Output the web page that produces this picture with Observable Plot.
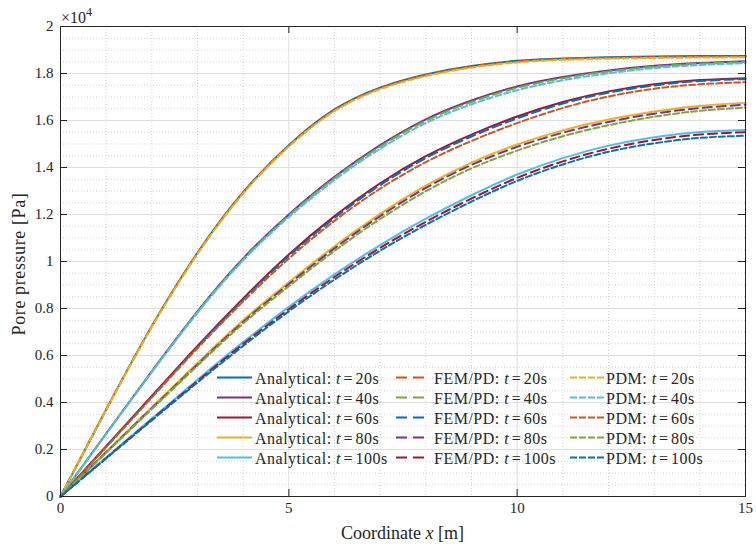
<!DOCTYPE html>
<html>
<head>
<meta charset="utf-8">
<script src="https://cdn.jsdelivr.net/npm/d3@7"></script>
<script src="https://cdn.jsdelivr.net/npm/@observablehq/plot@0.6"></script>
<style>
  body { margin: 0; background: #fff; }
  #wrap { position: relative; width: 756px; height: 552px; background: #fff; }
  #wrap svg, #wrap svg text { font-family: "Liberation Serif", "Times New Roman", serif !important; }
  #wrap svg.overlay { position: absolute; left: 0; top: 0; pointer-events: none; }
</style>
</head>
<body>
<div id="wrap"></div>
<script>
// ---------- DATA (pore pressure in units of 10^4 Pa) ----------
const xCoord = [0, 1, 2, 3, 4, 5, 6, 7, 8, 9, 10, 11, 12, 13, 14, 15];

const analytical20  = [0, 0.370, 0.725, 1.037, 1.295, 1.495, 1.647, 1.740, 1.796, 1.832, 1.854, 1.864, 1.869, 1.872, 1.874, 1.875];
const analytical40  = [0, 0.268, 0.533, 0.788, 1.013, 1.200, 1.360, 1.495, 1.605, 1.685, 1.745, 1.785, 1.813, 1.833, 1.845, 1.852];
const analytical60  = [0, 0.214, 0.428, 0.641, 0.843, 1.030, 1.193, 1.333, 1.448, 1.540, 1.617, 1.679, 1.724, 1.754, 1.772, 1.780];
const analytical80  = [0, 0.190, 0.380, 0.568, 0.750, 0.912, 1.065, 1.203, 1.323, 1.421, 1.498, 1.558, 1.604, 1.638, 1.662, 1.675];
const analytical100 = [0, 0.166, 0.332, 0.497, 0.657, 0.807, 0.945, 1.070, 1.182, 1.282, 1.370, 1.440, 1.493, 1.529, 1.551, 1.560];

const femPd20  = [0, 0.370, 0.724, 1.035, 1.293, 1.492, 1.644, 1.737, 1.793, 1.829, 1.851, 1.862, 1.867, 1.870, 1.872, 1.873];
const femPd40  = [0, 0.267, 0.531, 0.785, 1.009, 1.195, 1.355, 1.489, 1.599, 1.679, 1.739, 1.780, 1.809, 1.829, 1.842, 1.849];
const femPd60  = [0, 0.212, 0.425, 0.636, 0.837, 1.023, 1.185, 1.325, 1.440, 1.532, 1.609, 1.672, 1.718, 1.749, 1.768, 1.776];
const femPd80  = [0, 0.188, 0.376, 0.562, 0.743, 0.904, 1.056, 1.193, 1.313, 1.411, 1.488, 1.548, 1.594, 1.629, 1.653, 1.667];
const femPd100 = [0, 0.164, 0.328, 0.491, 0.649, 0.797, 0.934, 1.058, 1.169, 1.268, 1.356, 1.426, 1.480, 1.517, 1.540, 1.550];

const pdm20  = [0, 0.368, 0.721, 1.032, 1.289, 1.489, 1.640, 1.733, 1.789, 1.825, 1.847, 1.858, 1.863, 1.866, 1.868, 1.869];
const pdm40  = [0, 0.266, 0.529, 0.782, 1.005, 1.189, 1.347, 1.480, 1.589, 1.669, 1.729, 1.771, 1.801, 1.823, 1.836, 1.844];
const pdm60  = [0, 0.210, 0.421, 0.631, 0.830, 1.013, 1.173, 1.310, 1.423, 1.513, 1.589, 1.653, 1.702, 1.735, 1.754, 1.763];
const pdm80  = [0, 0.186, 0.372, 0.557, 0.736, 0.895, 1.045, 1.181, 1.299, 1.396, 1.472, 1.533, 1.580, 1.616, 1.641, 1.655];
const pdm100 = [0, 0.162, 0.324, 0.485, 0.641, 0.788, 0.923, 1.046, 1.156, 1.255, 1.343, 1.413, 1.467, 1.503, 1.526, 1.535];

const methods = ["Analytical", "FEM/PD", "PDM"];
const times = [20, 40, 60, 80, 100];

const xTicks = [0, 5, 10, 15];
const xTickLabels = ["0", "5", "10", "15"];
const yTicks = [0, 0.2, 0.4, 0.6, 0.8, 1, 1.2, 1.4, 1.6, 1.8, 2];
const yTickLabels = ["0", "0.2", "0.4", "0.6", "0.8", "1", "1.2", "1.4", "1.6", "1.8", "2"];
const xMinor = [1, 2, 3, 4, 6, 7, 8, 9, 11, 12, 13, 14];

// ---------- STYLE ----------
const C = {blue:"#0072BD", orange:"#D95319", yellow:"#EDB120", purple:"#7E2F8E", green:"#77AC30", cyan:"#4DBEEE", red:"#A2142F"};
const seriesValues = {
  "Analytical": [analytical20, analytical40, analytical60, analytical80, analytical100],
  "FEM/PD": [femPd20, femPd40, femPd60, femPd80, femPd100],
  "PDM": [pdm20, pdm40, pdm60, pdm80, pdm100]
};
const seriesColors = {
  "Analytical": [C.blue, C.purple, C.red, C.yellow, C.cyan],
  "FEM/PD": [C.orange, C.green, C.blue, C.purple, C.red],
  "PDM": [C.yellow, C.cyan, C.orange, C.green, C.blue]
};
const plotDash = {"Analytical": null, "FEM/PD": "9,5", "PDM": "6,3"};
const legendDash = {"Analytical": null, "FEM/PD": "11,6", "PDM": "7,2"};

const W = 756, H = 552, mL = 60, mR = 11, mT = 26, mB = 56;
const frameW = W - mL - mR, frameH = H - mT - mB;
const axisColor = "#262626";
const font = "Liberation Serif, Times New Roman, serif";

const yMinor = d3.range(1, 40).map(i => i * 0.05).filter(v => Math.abs(v / 0.2 - Math.round(v / 0.2)) > 1e-6);

const lineMarks = [];
for (const m of methods) {
  times.forEach((t, k) => {
    const rows = xCoord.map((x, i) => ({x, p: seriesValues[m][k][i]}));
    lineMarks.push(Plot.line(rows, {
      x: "x", y: "p", stroke: seriesColors[m][k], strokeWidth: 2,
      strokeDasharray: plotDash[m], curve: "natural"
    }));
  });
}

const chart = Plot.plot({
  width: W, height: H,
  marginLeft: mL, marginRight: mR, marginTop: mT, marginBottom: mB,
  style: {fontFamily: font, fontSize: "15px", color: axisColor, background: "#fff"},
  x: {domain: [0, 15], label: null, axis: null},
  y: {domain: [0, 2], label: null, axis: null},
  marks: [
    Plot.ruleX(xMinor, {stroke: "#d4d4d4", strokeDasharray: "1,2"}),
    Plot.ruleY(yMinor, {stroke: "#d4d4d4", strokeDasharray: "1,2"}),
    Plot.ruleX([5, 10], {stroke: "#dedede", strokeWidth: 1}),
    Plot.ruleY(yTicks.slice(1, -1), {stroke: "#dedede", strokeWidth: 1}),
    ...lineMarks,
    Plot.tickX(xTicks, {x: d => d, insetTop: frameH - 7, stroke: axisColor}),
    Plot.tickX(xTicks, {x: d => d, insetBottom: frameH - 7, stroke: axisColor}),
    Plot.tickY(yTicks, {y: d => d, insetRight: frameW - 7, stroke: axisColor}),
    Plot.tickY(yTicks, {y: d => d, insetLeft: frameW - 7, stroke: axisColor}),
    Plot.frame({stroke: axisColor, strokeWidth: 1}),
    Plot.axisX(xTicks, {anchor: "bottom", tickSize: 0, tickPadding: 6, label: null,
      tickFormat: d => xTickLabels[xTicks.indexOf(d)], fontSize: 15}),
    Plot.axisY(yTicks, {anchor: "left", tickSize: 0, tickPadding: 7, label: null,
      tickFormat: d => yTickLabels[yTicks.indexOf(d)], fontSize: 15})
  ]
});

const wrap = document.getElementById("wrap");
wrap.appendChild(chart);

// ---------- OVERLAY TEXT (exponent, axis labels, legend) ----------
const svg = d3.select(wrap).append("svg").attr("class", "overlay")
  .attr("width", W).attr("height", H)
  .style("fill", axisColor);

const ex = svg.append("text").attr("x", mL + 1).attr("y", 23).attr("font-size", 16);
ex.append("tspan").text("×10");
ex.append("tspan").attr("dy", -7).attr("font-size", 12).text("4");

const xl = svg.append("text").attr("x", mL + frameW / 2).attr("y", 539)
  .attr("text-anchor", "middle").attr("font-size", 18);
xl.append("tspan").text("Coordinate ");
xl.append("tspan").attr("font-style", "italic").text("x");
xl.append("tspan").text(" [m]");

svg.append("text").attr("transform", `translate(25,${mT + frameH / 2 + 3}) rotate(-90)`)
  .attr("text-anchor", "middle").attr("font-size", 18).attr("letter-spacing", 0.6)
  .text("Pore pressure [Pa]");

const colLine = [[217, 252], [396, 424], [570, 605]];
const colText = [255, 434, 606];
const rowY = [377.5, 397.5, 417.5, 437.5, 457.5];
methods.forEach((m, c) => {
  times.forEach((t, r) => {
    svg.append("line")
      .attr("x1", colLine[c][0]).attr("x2", colLine[c][1])
      .attr("y1", rowY[r]).attr("y2", rowY[r])
      .attr("stroke", seriesColors[m][r]).attr("stroke-width", 2)
      .attr("stroke-dasharray", legendDash[m]);
    const tx = svg.append("text").attr("x", colText[c]).attr("y", rowY[r] + 6)
      .attr("font-size", 16).attr("letter-spacing", 0.5);
    tx.append("tspan").text(m + ": ");
    tx.append("tspan").attr("font-style", "italic").text("t");
    tx.append("tspan").attr("dx", 2.5).text("=");
    tx.append("tspan").attr("dx", 2.5).text(t + "s");
  });
});
</script>
</body>
</html>
